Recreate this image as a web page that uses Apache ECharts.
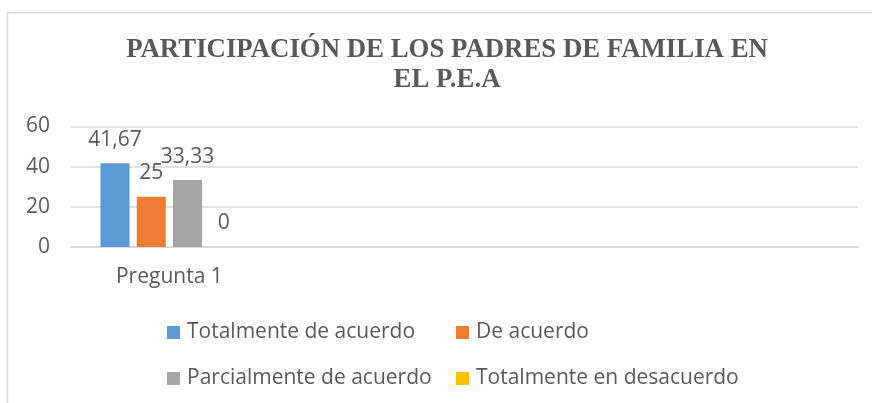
<!DOCTYPE html>
<html>
<head>
<meta charset="utf-8">
<script src="https://cdn.jsdelivr.net/npm/echarts@6/dist/echarts.min.js"></script>
<style>
html,body{margin:0;padding:0;background:#fff;}
#c{width:872px;height:403px;}
</style>
</head>
<body>
<div id="c"></div>
<script>
const titleText = 'PARTICIPACIÓN DE LOS PADRES DE FAMILIA EN\nEL P.E.A';
const categories = ['Pregunta 1', '', '', ''];
const seriesNames = ['Totalmente de acuerdo', 'De acuerdo', 'Parcialmente de acuerdo', 'Totalmente en desacuerdo'];
const totalmenteDeAcuerdo = [41.67, null, null, null];
const deAcuerdo = [25, null, null, null];
const parcialmenteDeAcuerdo = [33.33, null, null, null];
const totalmenteEnDesacuerdo = [0, null, null, null];
const colors = ['#5B9BD5', '#ED7D31', '#A5A5A5', '#FFC000'];
const yTicks = [0, 20, 40, 60];

const seriesData = [totalmenteDeAcuerdo, deAcuerdo, parcialmenteDeAcuerdo, totalmenteEnDesacuerdo];
const txt = '#595959';
const sans = '"Open Sans", "Noto Sans", sans-serif';

const chart = echarts.init(document.getElementById('c'), null, {renderer: 'canvas'});
chart.setOption({
  animation: false,
  backgroundColor: '#fff',
  color: colors,
  graphic: [{
    type: 'rect', silent: true, z: -10,
    shape: {x: 7.5, y: 12.5, width: 1000, height: 1000},
    style: {fill: null, stroke: '#d9d9d9', lineWidth: 1.5}
  }],
  title: {
    text: titleText,
    left: 447,
    top: 35,
    padding: 0,
    textAlign: 'center',
    textStyle: {
      fontFamily: '"Liberation Serif", "Times New Roman", serif',
      fontWeight: 'bold',
      fontSize: 26.8,
      lineHeight: 30,
      color: txt
    }
  },
  legend: [
    {
      orient: 'vertical', left: 167, top: 322, padding: 0, itemWidth: 13, itemHeight: 13, itemGap: 25,
      icon: 'rect', data: [seriesNames[0], seriesNames[2]],
      textStyle: {fontFamily: sans, fontSize: 21, color: txt, padding: [0, 0, 0, 2]}
    },
    {
      orient: 'vertical', left: 456, top: 322, padding: 0, itemWidth: 13, itemHeight: 13, itemGap: 25,
      icon: 'rect', data: [seriesNames[1], seriesNames[3]],
      textStyle: {fontFamily: sans, fontSize: 21, color: txt, padding: [0, 0, 0, 2]}
    }
  ],
  grid: {left: 71, right: 14, top: 126.5, bottom: 156, containLabel: false},
  xAxis: {
    type: 'category',
    data: categories,
    axisLine: {show: true, lineStyle: {color: '#d9d9d9', width: 1.5}},
    axisTick: {show: false},
    axisLabel: {fontFamily: sans, fontSize: 21, color: txt, margin: 20}
  },
  yAxis: {
    type: 'value',
    min: yTicks[0], max: yTicks[yTicks.length - 1], interval: 20,
    axisLine: {show: false},
    axisTick: {show: false},
    splitLine: {lineStyle: {color: '#d9d9d9', width: 1.5}},
    axisLabel: {fontFamily: sans, fontSize: 21, color: txt, margin: 21}
  },
  series: seriesNames.map((name, i) => ({
    name: name,
    type: 'bar',
    data: seriesData[i],
    barWidth: 29,
    barGap: '25%',
    itemStyle: {color: colors[i]},
    label: {
      show: true,
      position: 'top',
      distance: 13,
      fontFamily: sans,
      fontSize: 21,
      color: txt,
      formatter: p => (p.value === null || p.value === undefined) ? '' : String(p.value).replace('.', ',')
    }
  }))
});
</script>
</body>
</html>
